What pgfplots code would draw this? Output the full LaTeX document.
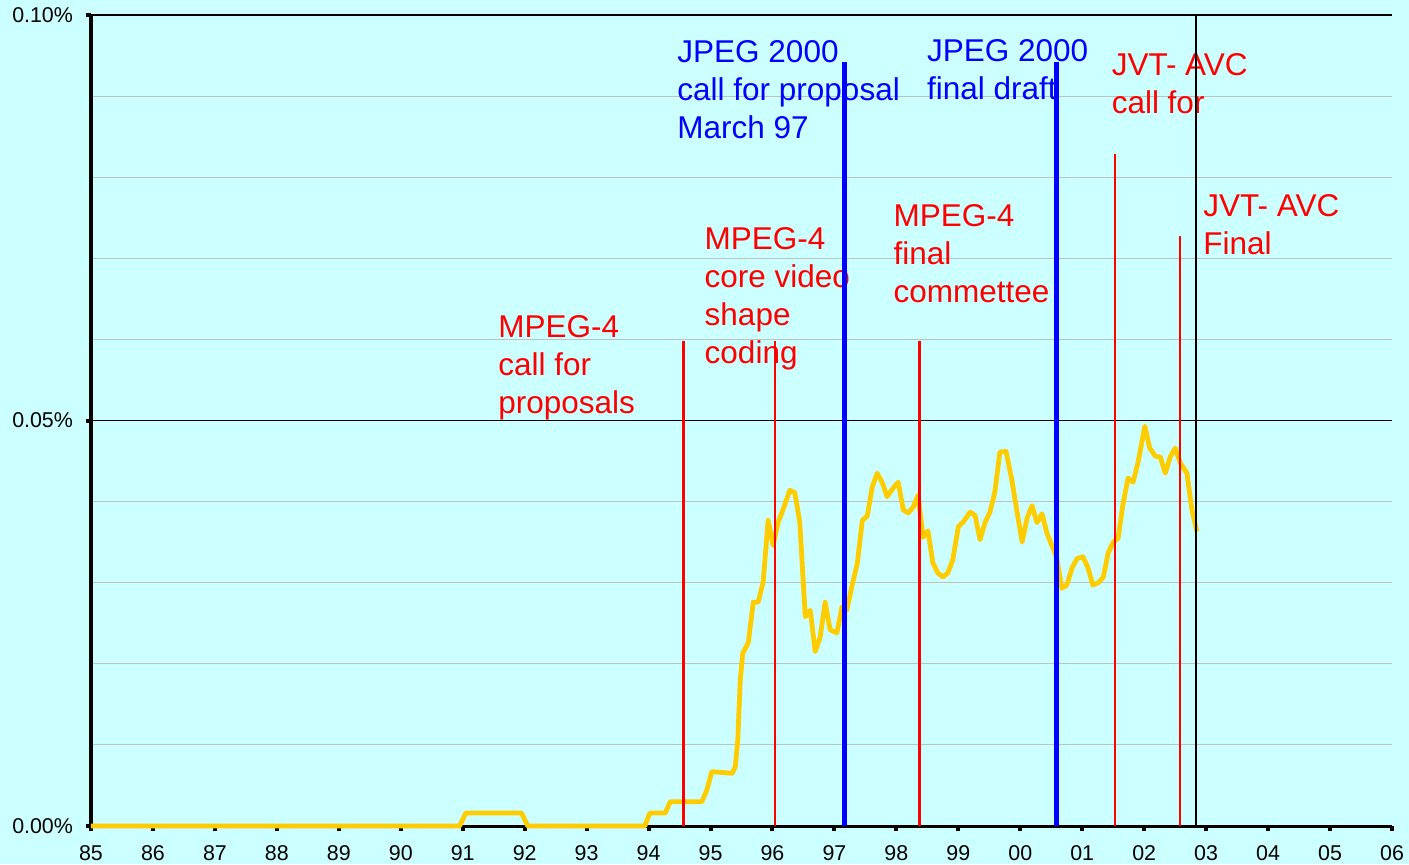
\documentclass[border=0pt]{standalone}
\usepackage{pgfplots}
\pgfplotsset{compat=1.18}
\usepackage{fontspec}
\setmainfont{Liberation Sans}
\definecolor{bgc}{RGB}{204,255,255}
\definecolor{gold}{RGB}{255,204,0}
\definecolor{mred}{RGB}{255,0,0}
\definecolor{mblue}{RGB}{0,0,255}
\definecolor{gridgray}{RGB}{192,192,192}
\begin{document}
\begin{tikzpicture}
\fill[bgc] (-45.5pt,-19pt) rectangle (659pt,413pt);
\useasboundingbox (-45.5pt,-19pt) rectangle (659pt,413pt);
\begin{axis}[
 anchor=south west, at={(0,0)},
 scale only axis, width=650.5pt, height=405.5pt,
 xmin=85, xmax=106, ymin=0, ymax=10,
 axis x line*=bottom, axis y line*=left,
 x axis line style={-, line width=1.5pt},
 y axis line style={-, line width=2pt},
 xtick={85,...,106},
 xticklabels={85,86,87,88,89,90,91,92,93,94,95,96,97,98,99,00,01,02,03,04,05,06},
 ytick={0,5,10},
 yticklabels={0.00\%,0.05\%,0.10\%},
 minor ytick={1,2,3,4,6,7,8,9},
 ymajorgrids, yminorgrids,
 major grid style={black, line width=0.9pt},
 minor grid style={gridgray, line width=0.5pt},
 tick align=outside,
 major tick length=2.5pt, minor tick length=0pt,
 tick style={black, line width=2pt},
 ticklabel style={font=\fontsize{10.7}{12}\selectfont},
 xticklabel style={yshift=-3.5pt},
 yticklabel style={xshift=-3pt},
 clip=false,
]
\addplot[gold, line width=2.4pt, line join=round] coordinates {
(85,0) (90.95,0) (91.05,0.16) (91.95,0.16) (92.05,0) (93.94,0) (94.02,0.16) (94.27,0.16) (94.35,0.30) (94.86,0.30) (94.94,0.44) (95.02,0.67) (95.35,0.65) (95.40,0.73) (95.44,1.06) (95.48,1.80) (95.52,2.13) (95.61,2.26) (95.69,2.76) (95.77,2.76) (95.85,3.01) (95.93,3.77) (96.01,3.46) (96.09,3.74) (96.17,3.90) (96.28,4.14) (96.36,4.11) (96.44,3.75) (96.53,2.58) (96.61,2.66) (96.69,2.15) (96.77,2.33) (96.85,2.76) (96.93,2.42) (97.04,2.38) (97.12,2.70) (97.20,2.66) (97.28,2.95) (97.37,3.24) (97.45,3.77) (97.53,3.82) (97.61,4.18) (97.69,4.35) (97.77,4.24) (97.85,4.06) (97.95,4.17) (98.03,4.24) (98.11,3.90) (98.19,3.86) (98.27,3.93) (98.35,4.08) (98.43,3.56) (98.51,3.64) (98.59,3.24) (98.67,3.12) (98.75,3.07) (98.83,3.12) (98.91,3.28) (99.00,3.69) (99.08,3.75) (99.19,3.87) (99.27,3.83) (99.35,3.53) (99.43,3.74) (99.51,3.87) (99.59,4.12) (99.67,4.61) (99.77,4.62) (99.87,4.24) (99.95,3.86) (100.03,3.50) (100.11,3.80) (100.19,3.95) (100.27,3.74) (100.35,3.85) (100.43,3.61) (100.51,3.46) (100.59,3.30) (100.67,2.93) (100.75,2.97) (100.84,3.19) (100.92,3.30) (101.01,3.32) (101.09,3.19) (101.17,2.97) (101.26,3.00) (101.34,3.07) (101.42,3.37) (101.50,3.50) (101.58,3.55) (101.66,3.98) (101.74,4.29) (101.82,4.24) (101.90,4.48) (102.01,4.93) (102.09,4.66) (102.18,4.56) (102.26,4.55) (102.34,4.35) (102.42,4.55) (102.50,4.66) (102.58,4.48) (102.69,4.35) (102.77,3.90) (102.85,3.63)
};
\tikzset{lbl/.style={anchor=base west, align=left, inner sep=0pt, font=\fontsize{15.75}{19}\selectfont}}
\node[lbl, text=mred] at (axis cs:91.57,5.09) {MPEG-4\\call for\\proposals};
\node[lbl, text=mred] at (axis cs:94.90,5.70) {MPEG-4\\core video\\shape\\coding};
\node[lbl, text=mblue] at (axis cs:94.46,8.48) {JPEG 2000\\call for proposal\\March 97};
\node[lbl, text=mblue] at (axis cs:98.49,8.96) {JPEG 2000\\final draft};
\node[lbl, text=mred] at (axis cs:97.95,6.45) {MPEG-4\\final\\commettee};
\node[lbl, text=mred] at (axis cs:101.47,8.78) {JVT- AVC\\call for};
\node[lbl, text=mred] at (axis cs:102.95,7.05) {JVT- AVC\\Final};
\addplot[mred, line width=1.5pt] coordinates {(94.56,0) (94.56,5.98)};
\addplot[mred, line width=1pt] coordinates {(96.04,0) (96.04,5.98)};
\addplot[mblue, line width=2.5pt] coordinates {(97.17,0) (97.17,9.42)};
\addplot[mred, line width=1.2pt] coordinates {(98.37,0) (98.37,5.98)};
\addplot[mblue, line width=2.5pt] coordinates {(100.59,0) (100.59,9.42)};
\addplot[mred, line width=1pt] coordinates {(101.53,0) (101.53,8.29)};
\addplot[mred, line width=1pt] coordinates {(102.58,0) (102.58,7.27)};
\addplot[black, line width=1pt] coordinates {(102.84,0) (102.84,10)};
\end{axis}
\end{tikzpicture}
\end{document}
